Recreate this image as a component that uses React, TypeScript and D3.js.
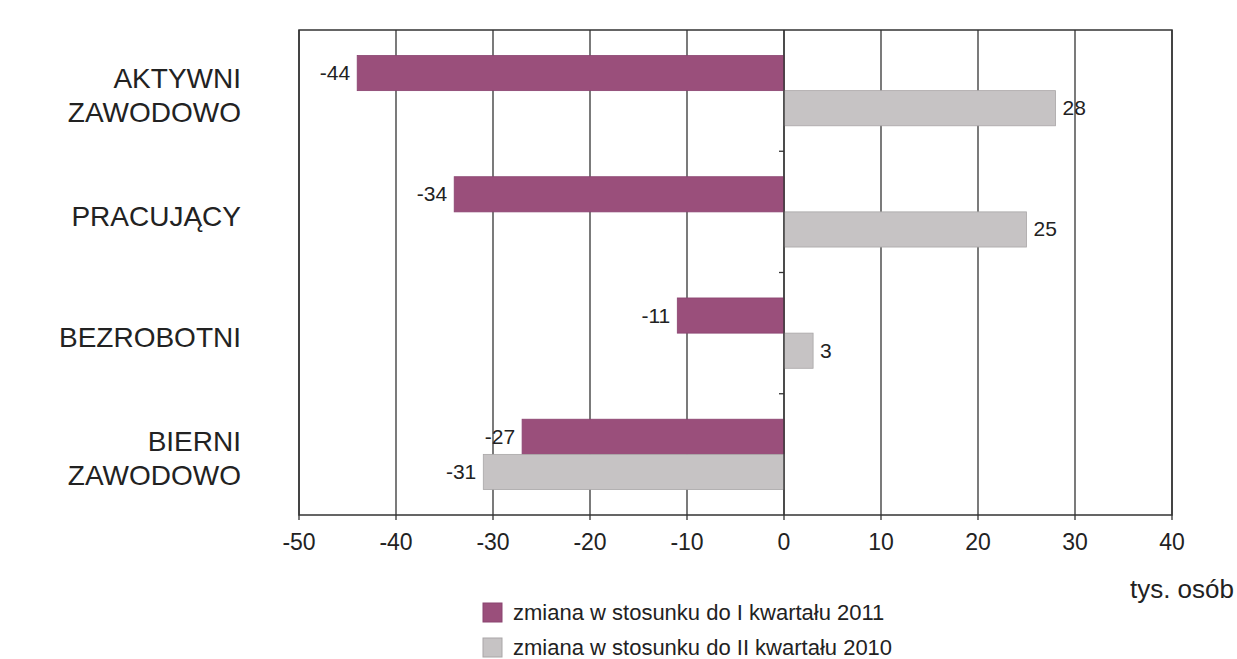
import React from "react";
import * as d3 from "d3";

// categories (lines of each label) and values in thousand persons
const categories = ["AKTYWNI ZAWODOWO", "PRACUJĄCY", "BEZROBOTNI", "BIERNI ZAWODOWO"];
const categoryLines = [["AKTYWNI", "ZAWODOWO"], ["PRACUJĄCY"], ["BEZROBOTNI"], ["BIERNI", "ZAWODOWO"]];
const seriesNames = ["zmiana w stosunku do I kwartału 2011", "zmiana w stosunku do II kwartału 2010"];
const vsQ1_2011 = [-44, -34, -11, -27];
const vsQ2_2010 = [28, 25, 3, -31];
const xTicks = [-50, -40, -30, -20, -10, 0, 10, 20, 30, 40];
const unitLabel = "tys. osób";

const W = 1237;
const H = 659;
const font = "'Liberation Sans', Arial, sans-serif";
const colors = ["#9a4f7b", "#c6c3c4"];
const strokes = ["#8a4470", "#a9a6a7"];

const App: React.FC = () => {
  const plot = { left: 299, right: 1172, top: 30, bottom: 515 };

  const x = d3.scaleLinear().domain([-50, 40]).range([plot.left, plot.right]);
  const y = d3.scaleBand<string>().domain(categories).range([plot.top, plot.bottom]).padding(0);
  const groupH = y.bandwidth() * 0.58;
  const inner = d3.scaleBand<number>().domain([0, 1]).range([0, groupH]).padding(0);

  const series = [vsQ1_2011, vsQ2_2010];

  return (
    <svg
      width={W}
      height={H}
      style={{ position: "absolute", left: 0, top: 0, background: "#fff" }}
      fontFamily={font}
    >
      {/* grid lines */}
      {xTicks.map((t) => (
        <line key={"g" + t} x1={x(t)} x2={x(t)} y1={plot.top} y2={plot.bottom} stroke="#333" strokeWidth={1.3} />
      ))}

      {/* bars */}
      {categories.map((c, i) => {
        const y0 = (y(c) ?? 0) + (y.bandwidth() - groupH) / 2;
        return series.map((s, si) => {
          const v = s[i];
          const bx = Math.min(x(0), x(v));
          const bw = Math.abs(x(v) - x(0));
          const by = y0 + (inner(si) ?? 0);
          const bh = inner.bandwidth();
          const lx = v < 0 ? x(v) - 7 : x(v) + 7;
          return (
            <g key={c + si}>
              <rect x={bx} y={by} width={bw} height={bh} fill={colors[si]} stroke={strokes[si]} strokeWidth={0.8} />
              <text
                x={lx}
                y={by + bh / 2 + 7}
                fontSize={21}
                fill="#222"
                textAnchor={v < 0 ? "end" : "start"}
              >
                {v}
              </text>
            </g>
          );
        });
      })}

      {/* zero axis with category separator ticks */}
      <line x1={x(0)} x2={x(0)} y1={plot.top} y2={plot.bottom} stroke="#333" strokeWidth={1.3} />
      {categories.slice(1).map((c) => (
        <line key={"s" + c} x1={x(0) - 5} x2={x(0)} y1={y(c)} y2={y(c)} stroke="#333" strokeWidth={1.3} />
      ))}

      {/* plot frame */}
      <rect
        x={plot.left}
        y={plot.top}
        width={plot.right - plot.left}
        height={plot.bottom - plot.top}
        fill="none"
        stroke="#333"
        strokeWidth={1.5}
      />

      {/* x axis ticks & labels */}
      {xTicks.map((t) => (
        <g key={"t" + t}>
          <line x1={x(t)} x2={x(t)} y1={plot.bottom} y2={plot.bottom + 5} stroke="#333" strokeWidth={1.3} />
          <text x={x(t)} y={plot.bottom + 35} fontSize={23} fill="#222" textAnchor="middle">
            {t}
          </text>
        </g>
      ))}

      {/* category labels */}
      {categories.map((c, i) => {
        const lines = categoryLines[i];
        const lh = 34;
        const cy = (y(c) ?? 0) + y.bandwidth() / 2 + 4;
        const first = cy - ((lines.length - 1) * lh) / 2 + 10;
        return (
          <text key={"c" + c} x={241} fontSize={28} fill="#222" textAnchor="end">
            {lines.map((l, li) => (
              <tspan key={l + li} x={241} y={first + li * lh}>
                {l}
              </tspan>
            ))}
          </text>
        );
      })}

      {/* unit */}
      <text x={1234} y={598} fontSize={26} fill="#222" textAnchor="end">
        {unitLabel}
      </text>

      {/* legend */}
      {seriesNames.map((n, i) => (
        <g key={"l" + i} transform={`translate(483,${603 + i * 35})`}>
          <rect x={0} y={0} width={19} height={19} fill={colors[i]} stroke={strokes[i]} strokeWidth={1} />
          <text x={30} y={17} fontSize={22} fill="#222">
            {n}
          </text>
        </g>
      ))}
    </svg>
  );
};

export default App;
